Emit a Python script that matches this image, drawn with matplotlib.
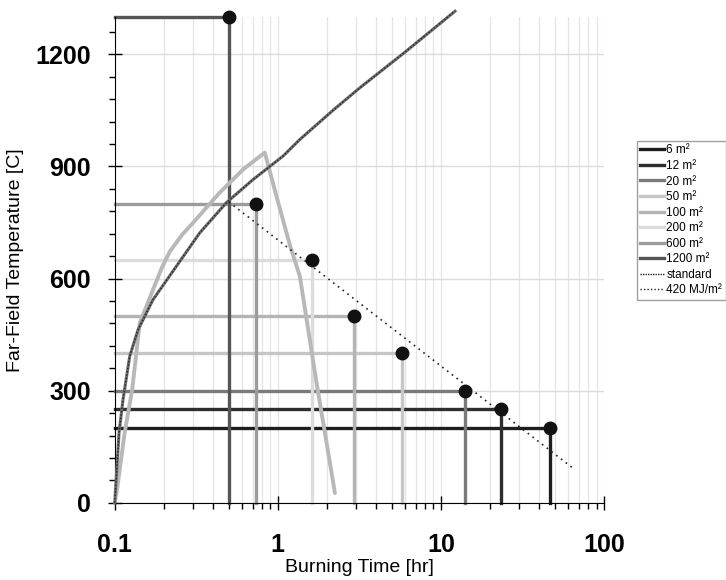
import matplotlib.pyplot as plt
from matplotlib.lines import Line2D
from matplotlib.ticker import MultipleLocator, LogLocator, NullFormatter, FixedLocator, FixedFormatter

plt.rcParams['font.family'] = ['Liberation Sans', 'DejaVu Sans']

# áreas de ventilación, tiempo de quemado y temperatura de campo lejano
areas = ['6 m²', '12 m²', '20 m²', '50 m²', '100 m²', '200 m²', '600 m²', '1200 m²']
tiempos = [46.5, 23.3, 14.0, 5.8, 2.95, 1.62, 0.74, 0.5]
temperaturas = [200, 250, 300, 400, 500, 650, 800, 1300]
colores = ['#1e1e1e', '#2e2e2e', '#7a7a7a', '#c6c6c6', '#b4b4b4', '#dcdcdc', '#9c9c9c', '#555555']

# curva estándar
t_estandar = [0.1, 0.1063, 0.1124, 0.1236, 0.139, 0.172, 0.239, 0.332, 0.484, 0.706,
              1.08, 1.365, 2.18, 3.18, 6.0, 12.2]
T_estandar = [0, 187, 276, 392, 463, 544, 633, 722, 803, 865,
              928, 972, 1050, 1110, 1205, 1315]

# curva del recinto de 600 m2 (subida y caída)
t_600 = [0.1, 0.104, 0.115, 0.128, 0.1424, 0.172, 0.195, 0.2175, 0.26, 0.302, 0.441, 0.613, 0.832,
         1.0, 1.19, 1.365, 1.728, 2.0, 2.24]
T_600 = [0, 44, 187, 303, 481, 571, 630, 672, 718, 749, 830, 892, 937,
         807, 687, 606, 321, 155, 26]

# línea de 420 MJ/m2
t_carga = [0.5, 64]
T_carga = [805, 94]

fig = plt.figure(figsize=(7.26, 5.8), dpi=100)
ax = fig.add_axes([0.158, 0.133, 0.674, 0.838])

lineas = []
for area, t, T, c in zip(areas, tiempos, temperaturas, colores):
    l, = ax.plot([0.1, t, t], [T, T, 0], color=c, lw=2.4, label=area, zorder=2, clip_on=False)
    lineas.append(l)

# la curva estándar se ve como una línea gris rugosa
ax.plot(t_estandar, T_estandar, color='#6e6e6e', lw=2.2, zorder=4, clip_on=False)
ax.plot(t_estandar, T_estandar, color='#2a2a2a', lw=1.1, linestyle=(0, (1, 1.2)), zorder=4, clip_on=False)
ax.plot(t_600, T_600, color='#b8b8b8', lw=2.8, zorder=3, solid_capstyle='round')
ax.plot(t_carga, T_carga, color='#222222', lw=1.2, linestyle=(0, (1, 2.6)), zorder=4)

ax.plot(tiempos, temperaturas, 'o', color='#111111', markersize=9, zorder=6, clip_on=False)

ax.set_xscale('log')
ax.set_xlim(0.1, 100)
ax.set_ylim(0, 1300)

ax.xaxis.set_major_locator(FixedLocator([0.1, 1, 10, 100]))
ax.xaxis.set_major_formatter(FixedFormatter(['0.1', '1', '10', '100']))
ax.xaxis.set_minor_locator(LogLocator(base=10, subs=range(2, 10)))
ax.xaxis.set_minor_formatter(NullFormatter())
ax.yaxis.set_major_locator(MultipleLocator(300))
ax.yaxis.set_minor_locator(MultipleLocator(60))

ax.tick_params(which='major', direction='inout', length=10, width=1, labelsize=18)
ax.tick_params(axis='x', which='major', pad=17)
ax.tick_params(axis='y', which='major', pad=12)
ax.tick_params(which='minor', direction='out', length=4.5, width=1)
for lab in ax.get_xticklabels() + ax.get_yticklabels():
    lab.set_fontweight('bold')

ax.grid(axis='y', which='major', color='#dcdcdc', lw=1)
ax.grid(axis='x', which='both', color='#e4e4e4', lw=0.9)
ax.set_axisbelow(True)

ax.spines['top'].set_visible(False)
ax.spines['right'].set_visible(False)

ax.set_xlabel('Burning Time [hr]', fontsize=14, labelpad=1)
ax.set_ylabel('Far-Field Temperature [C]', fontsize=14, labelpad=8)

# leyenda fuera del eje, a la derecha
h_est = Line2D([], [], color='#222222', lw=1, linestyle=(0, (1, 0.8)))
h_carga = Line2D([], [], color='#222222', lw=1, linestyle=(0, (1, 1.5)))
fig.legend(handles=lineas + [h_est, h_carga], labels=areas + ['standard', '420 MJ/m²'],
           loc='upper left', bbox_to_anchor=(0.877, 0.757),
           fontsize=8.5, frameon=True, fancybox=False, edgecolor='#888888', handlelength=2.0,
           handletextpad=0.2, labelspacing=0.3, borderpad=0.3, borderaxespad=0)

fig.savefig('out.png', dpi=100)
